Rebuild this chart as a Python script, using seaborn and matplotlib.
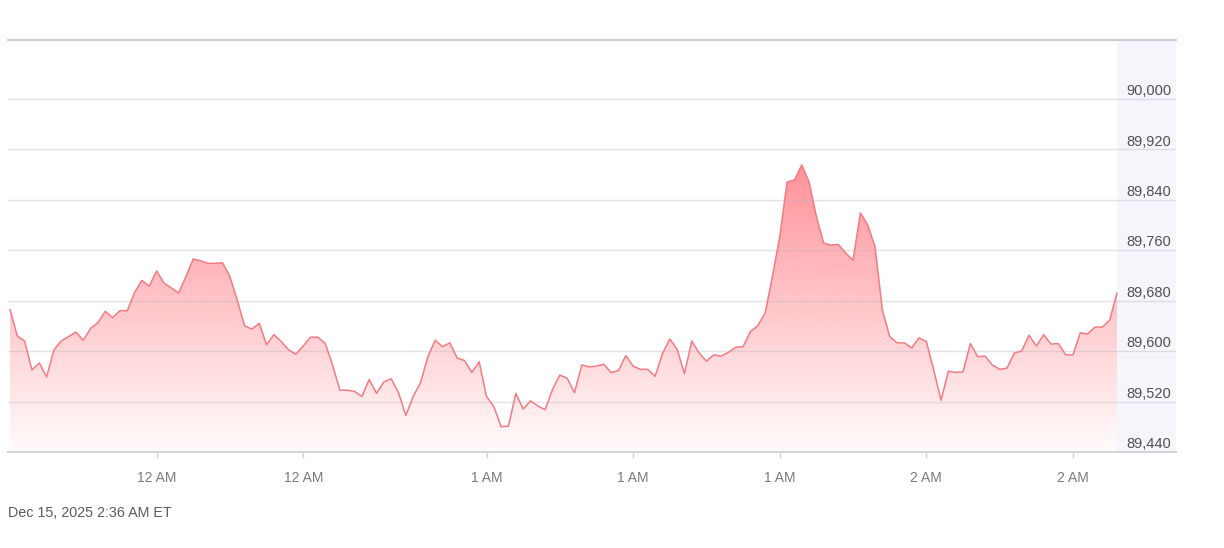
import numpy as np
import pandas as pd
import seaborn as sns
import matplotlib.pyplot as plt
from matplotlib.colors import to_rgb

# minutes since start of the window, one reading per minute
minutes = list(range(152))
price = [
    89666, 89624, 89616, 89570, 89581, 89559, 89602, 89616, 89623, 89630,
    89617, 89636, 89645, 89663, 89653, 89664, 89664, 89693, 89712, 89703,
    89727, 89708, 89700, 89692, 89718, 89746, 89743, 89739, 89739, 89740,
    89718, 89681, 89640, 89635, 89644, 89610, 89626, 89615, 89602, 89595,
    89608, 89622, 89622, 89612, 89578, 89538, 89538, 89536, 89528, 89555,
    89533, 89551, 89556, 89534, 89498, 89528, 89550, 89591, 89617, 89607,
    89613, 89589, 89585, 89566, 89583, 89528, 89512, 89480, 89481, 89533,
    89508, 89521, 89513, 89507, 89539, 89562, 89557, 89534, 89578, 89575,
    89576, 89579, 89566, 89569, 89593, 89576, 89571, 89571, 89560, 89596,
    89619, 89603, 89564, 89616, 89597, 89584, 89594, 89592, 89598, 89606,
    89607, 89631, 89640, 89660, 89718, 89781, 89868, 89871, 89895, 89868,
    89813, 89771, 89768, 89769, 89755, 89744, 89819, 89800, 89765, 89665,
    89623, 89613, 89613, 89605, 89621, 89615, 89570, 89522, 89568, 89566,
    89567, 89612, 89591, 89592, 89578, 89571, 89573, 89597, 89600, 89625,
    89608, 89626, 89611, 89612, 89594, 89594, 89629, 89627, 89638, 89638,
    89649, 89692,
]
x_ticks = [20, 40, 65, 85, 105, 125, 145]
x_labels = ['12 AM', '12 AM', '1 AM', '1 AM', '1 AM', '2 AM', '2 AM']
y_ticks = [89440, 89520, 89600, 89680, 89760, 89840, 89920, 90000]
stamp = 'Dec 15, 2025 2:36 AM ET'

df = pd.DataFrame({'minute': minutes, 'price': price})

sns.set_theme(style='white')
plt.rcParams['font.family'] = ['Liberation Sans', 'DejaVu Sans']

fig = plt.figure(figsize=(12.24, 5.48), dpi=100)
ax = fig.add_axes([8 / 1224, 96 / 548, 1168 / 1224, 412 / 548])

ymin, ymax = 89440, 90093
xmin, xmax = -0.27, 159.05
ax.set_xlim(xmin, xmax)
ax.set_ylim(ymin, ymax)

# price-scale panel on the right
ax.axvspan(minutes[-1], xmax, color='#f5f5fc', zorder=0, lw=0)

# gradient area under the line
base = np.array(to_rgb('#ff7c84'))
n = 256
grad = np.zeros((n, 1, 4))
grad[:, 0, :3] = base
grad[:, 0, 3] = np.linspace(0.03, 0.84, n)
top_val = 89900
img = ax.imshow(grad, aspect='auto', origin='lower',
                extent=[minutes[0], minutes[-1], ymin, top_val], zorder=1)
poly = ax.fill_between(df['minute'], df['price'], ymin, color='none', lw=0)
img.set_clip_path(poly.get_paths()[0], transform=ax.transData)
ax.set_xlim(xmin, xmax)
ax.set_ylim(ymin, ymax)

sns.lineplot(data=df, x='minute', y='price', ax=ax, color='#f47b83',
             lw=1.1, zorder=3)

# grid lines and price labels
for v in y_ticks:
    if v > ymin:
        ax.axhline(v, color='#b8b8c4', alpha=0.4, lw=1, zorder=2)
    ax.annotate(f'{v:,}', xy=(0.996, v), xycoords=('axes fraction', 'data'),
                xytext=(0, 5.5), textcoords='offset points', ha='right',
                va='center', fontsize=10.5, color='#505050')

for s in ['left', 'right']:
    ax.spines[s].set_visible(False)
ax.spines['top'].set_color('#c9c9d2')
ax.spines['top'].set_linewidth(1.4)
ax.spines['bottom'].set_color('#d2d2da')
ax.spines['bottom'].set_linewidth(1.4)

ax.set_yticks([])
ax.set_xticks(x_ticks)
ax.set_xticklabels(x_labels)
ax.tick_params(axis='x', bottom=True, length=4, width=1, color='#d2d2da',
               pad=9.5, labelsize=10, labelcolor='#7a7a7a')
ax.set_xlabel('')
ax.set_ylabel('')

fig.text(8 / 1224, 1 - 513 / 548, stamp, ha='left', va='center',
         fontsize=10.3, color='#5a5a5a')

fig.savefig('out.png', dpi=100)
